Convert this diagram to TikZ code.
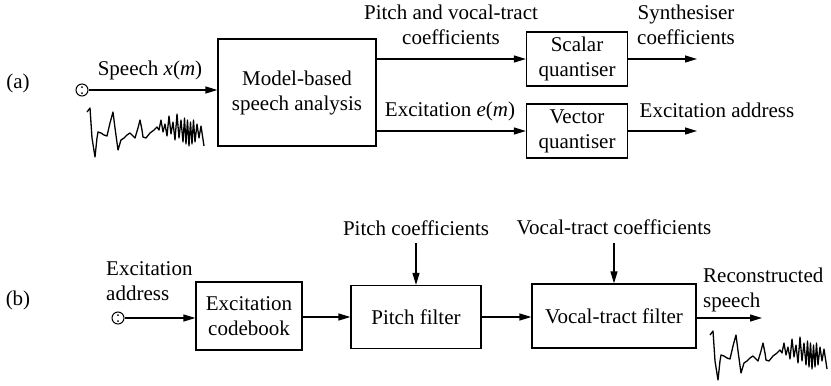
\documentclass[tikz,border=0pt]{standalone}
\usepackage{fontspec}
\IfFontExistsTF{LiberationSerif-Regular.ttf}
  {\setmainfont{LiberationSerif}[Extension=.ttf, UprightFont=*-Regular,
     ItalicFont=*-Italic, BoldFont=*-Bold, BoldItalicFont=*-BoldItalic]}
  {\setmainfont{Liberation Serif}}
\usetikzlibrary{arrows.meta,calc}

\tikzset{
  blk/.style={draw, line width=1.2pt, align=center, inner sep=0pt},
  lbl/.style={inner sep=0pt, align=center},
  conn/.style={line width=1.2pt, -{Triangle[length=12pt,width=7pt]}},
  srcdot/.style={draw, line width=1pt, circle, minimum size=12pt, inner sep=0pt},
  wave/.style={line width=1.3pt, line join=round},
  speechwave/.pic={
    \draw[wave] (0,4) -- (3,0) -- (5,30) -- (8,49) -- (10,30) -- (11,24) -- (14,25)
      -- (17,27) -- (20,28) -- (23,15) -- (26,4) -- (28,20) -- (31,42) -- (34,32)
      -- (37,30) -- (40,27) -- (43,25) -- (46,28) -- (48,30) -- (51,20) -- (53,12)
      -- (55,22) -- (56,29) -- (59,30) -- (63,25) -- (67,22) -- (70,19) -- (72,22)
      -- (74,12) -- (76,24) -- (78,16) -- (80,28) -- (82,8) -- (84,26) -- (86,14)
      -- (88,32) -- (90,6) -- (92,30) -- (94,12) -- (96,34) -- (97.5,10) -- (99,36)
      -- (100.5,12) -- (102,38) -- (103.5,14) -- (105,36) -- (106.5,12) -- (108,34)
      -- (110,16) -- (112,30) -- (114,18) -- (117,38);
  }
}

\begin{document}
\begin{tikzpicture}[x=1pt, y=-1pt, font=\fontsize{21}{25}\selectfont]
\useasboundingbox (0,0) rectangle (831,386);

% ---------- (a) analysis / encoder ----------
\node[lbl] (tagA) at (18,83) {(a)};
\node[srcdot] (srcA) at (82,90) {};
\fill (82,87) circle (1pt) (82,93) circle (1pt);
\node[lbl] (spA) at (150,70) {Speech \textit{x}(\textit{m})};
\pic at (87,108) {speechwave};

\node[blk, minimum width=158pt, minimum height=107pt] (model) at (297,92.5)
  {Model-based\\speech analysis};
\node[blk, minimum width=101pt, minimum height=54pt] (scalar) at (577,59)
  {Scalar\\quantiser};
\node[blk, minimum width=101pt, minimum height=54pt] (vector) at (577,131)
  {Vector\\quantiser};

\node[lbl] (pvc) at (451,25) {Pitch and vocal-tract\\coefficients};
\node[lbl] (exe) at (450,111) {Excitation \textit{e}(\textit{m})};
\node[lbl] (syn) at (686,25) {Synthesiser\\coefficients};
\node[lbl] (exa) at (717,110) {Excitation address};

\coordinate (outS) at (697,59);
\coordinate (outV) at (697,131);

\draw[conn] (srcA.east) -- (srcA.east -| model.west);
\draw[conn] (model.east |- scalar.west) -- (scalar.west);
\draw[conn] (model.east |- vector.west) -- (vector.west);
\draw[conn] (scalar.east) -- (outS);
\draw[conn] (vector.east) -- (outV);

% ---------- (b) synthesis / decoder ----------
\node[lbl] (tagB) at (18,300) {(b)};
\node[lbl, align=left, anchor=west] (addr) at (106,281) {Excitation\\address};
\node[srcdot] (srcB) at (118,318) {};
\fill (118,315) circle (1pt) (118,321) circle (1pt);

\node[blk, minimum width=106pt, minimum height=68pt] (codebook) at (249,316)
  {Excitation\\codebook};
\node[blk, minimum width=130pt, minimum height=63pt] (pitch) at (416,317)
  {Pitch filter};
\node[blk, minimum width=164pt, minimum height=64pt] (vocal) at (614,316)
  {Vocal-tract filter};

\node[lbl] (pcl) at (416,228) {Pitch coefficients};
\node[lbl] (vcl) at (614,227) {Vocal-tract coefficients};
\node[lbl, align=left, anchor=west] (rec) at (703,290) {Reconstructed\\speech};

\coordinate (pcin) at (416,243);
\coordinate (vcin) at (614,243);
\coordinate (outR) at (762,318);

\draw[conn] (srcB.east) -- (srcB.east -| codebook.west);
\draw[conn] (codebook.east |- pitch.west) -- (pitch.west);
\draw[conn] (pitch.east) -- (pitch.east -| vocal.west);
\draw[conn] (pcin) -- (pitch.north);
\draw[conn] (vcin) -- (vocal.north);
\draw[conn] (vocal.east |- outR) -- (outR);

\pic at (710,331) {speechwave};
\end{tikzpicture}
\end{document}
